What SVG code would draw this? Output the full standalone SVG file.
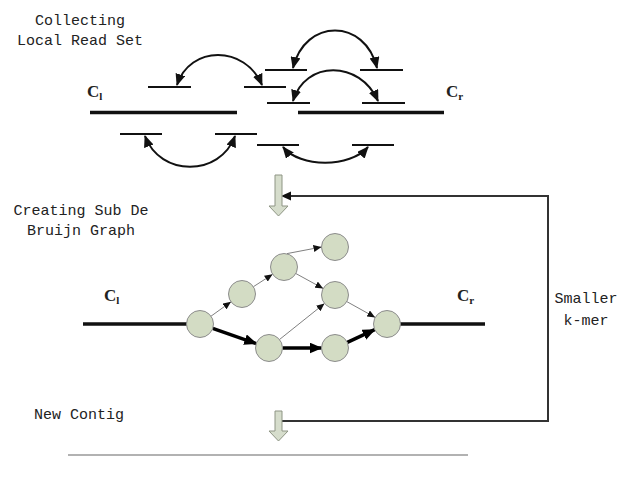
<svg xmlns="http://www.w3.org/2000/svg" width="625" height="484" viewBox="0 0 625 484">
<style>
.lbl{font-family:"Liberation Mono","DejaVu Sans Mono",monospace;font-size:15px;fill:#222;text-anchor:middle}
.c{font-family:"Liberation Serif","Times New Roman",serif;font-size:17px;font-weight:bold;fill:#222}
.contig{stroke:#111;stroke-width:3.5;fill:none}
.read{stroke:#111;stroke-width:2;fill:none}
.arc{stroke:#111;stroke-width:2;fill:none;marker-start:url(#ah);marker-end:url(#ah)}
.node{fill:#d3dcc4;stroke:#8c8c8c;stroke-width:1}
.thin{stroke:#808080;stroke-width:1;fill:none;marker-end:url(#ahs)}
.thick{stroke:#000;stroke-width:3.5;fill:none;marker-end:url(#ahb)}
.block{fill:#d6ddcc;stroke:#8e9584;stroke-width:1}
.loop{stroke:#333;stroke-width:2;fill:none}
</style>
<defs>
<marker id="ah" markerUnits="userSpaceOnUse" markerWidth="12" markerHeight="10" refX="11" refY="5" orient="auto-start-reverse"><path d="M0,0 L12,5 L0,10 z" fill="#111"/></marker>
<marker id="ahs" markerUnits="userSpaceOnUse" markerWidth="8" markerHeight="7" refX="8" refY="3.5" orient="auto"><path d="M0,0 L8,3.5 L0,7 z" fill="#111"/></marker>
<marker id="ahb" markerUnits="userSpaceOnUse" markerWidth="13" markerHeight="11" refX="12" refY="5.5" orient="auto"><path d="M0,0 L13,5.5 L0,11 z" fill="#000"/></marker>
</defs>

<g id="title-collecting">
<text class="lbl" x="80" y="25">Collecting</text>
<text class="lbl" x="80" y="45">Local Read Set</text>
</g>

<g id="read-set">
<text class="c" x="87" y="97">C<tspan font-size="11" dy="3">l</tspan></text>
<text class="c" x="446" y="97">C<tspan font-size="11" dy="3">r</tspan></text>
<line class="contig" x1="90" y1="112.5" x2="237" y2="112.5"/>
<line class="contig" x1="298" y1="112.5" x2="444" y2="112.5"/>
<line class="read" x1="148" y1="87" x2="191" y2="87"/>
<line class="read" x1="244" y1="87" x2="286" y2="87"/>
<line class="read" x1="265" y1="70" x2="307" y2="70"/>
<line class="read" x1="360" y1="70" x2="403" y2="70"/>
<line class="read" x1="267" y1="103" x2="310" y2="103"/>
<line class="read" x1="362" y1="103" x2="405" y2="103"/>
<line class="read" x1="120" y1="134" x2="162" y2="134"/>
<line class="read" x1="215" y1="134" x2="257" y2="134"/>
<line class="read" x1="257" y1="145" x2="299" y2="145"/>
<line class="read" x1="352" y1="145" x2="394" y2="145"/>
</g>

<g id="connectors">
<path class="arc" d="M177,85 C190,45 245,45 262,85"/>
<path class="arc" d="M293,68 C305,18 365,18 377,68"/>
<path class="arc" d="M293,101 C305,60 360,60 378,101"/>
<path class="arc" d="M145,136 C160,177 220,177 235,136"/>
<path class="arc" d="M283,147 C300,168 350,168 368,147"/>

<line class="thin" x1="211" y1="316.2" x2="231" y2="301.8"/>
<line class="thin" x1="253.4" y1="286.7" x2="272.6" y2="274.3"/>
<line class="thin" x1="287" y1="253.6" x2="321.5" y2="247"/>
<line class="thin" x1="295.8" y1="273.5" x2="323.2" y2="288.5"/>
<line class="thin" x1="279.5" y1="339.5" x2="324.5" y2="303.5"/>
<line class="thin" x1="346.8" y1="301.6" x2="375.2" y2="317.4"/>
<line class="thick" x1="212.7" y1="328.4" x2="256.3" y2="343.6"/>
<line class="thick" x1="282.5" y1="348" x2="321.5" y2="348"/>
<line class="thick" x1="347.3" y1="342.3" x2="374.7" y2="329.7"/>

<path class="loop" d="M282,421 H548 V196 H291"/>
<path d="M281,196 L291,191.5 L291,200.5 z" fill="#111"/>
</g>

<g id="step-arrow-1">
<polygon class="block" points="275,175 282,175 282,206 288,206 278.5,216 269,206 275,206"/>
</g>

<g id="title-creating">
<text class="lbl" x="81" y="215">Creating Sub De</text>
<text class="lbl" x="81" y="235">Bruijn Graph</text>
</g>

<g id="graph">
<text class="c" x="104" y="301">C<tspan font-size="11" dy="3">l</tspan></text>
<text class="c" x="457" y="301">C<tspan font-size="11" dy="3">r</tspan></text>
<line class="contig" x1="83" y1="324" x2="187" y2="324"/>
<line class="contig" x1="400" y1="324" x2="485" y2="324"/>
<g id="node-a"><circle class="node" cx="200" cy="324" r="13.5"/></g>
<g id="node-b"><circle class="node" cx="242" cy="294" r="13.5"/></g>
<g id="node-c"><circle class="node" cx="284" cy="267" r="13.5"/></g>
<g id="node-d"><circle class="node" cx="335" cy="247" r="13.5"/></g>
<g id="node-e"><circle class="node" cx="335" cy="295" r="13.5"/></g>
<g id="node-f"><circle class="node" cx="269" cy="348" r="13.5"/></g>
<g id="node-g"><circle class="node" cx="335" cy="348" r="13.5"/></g>
<g id="node-h"><circle class="node" cx="387" cy="324" r="13.5"/></g>
</g>

<g id="smaller-kmer">
<text class="lbl" x="586" y="303">Smaller</text>
<text class="lbl" x="586" y="325">k-mer</text>
</g>

<g id="title-new-contig">
<text class="lbl" x="79" y="419">New Contig</text>
</g>

<g id="step-arrow-2">
<polygon class="block" points="275,411 282,411 282,431 288,431 278.5,441 269,431 275,431"/>
</g>

<g id="new-contig">
<line x1="68" y1="455" x2="468" y2="455" stroke="#999" stroke-width="1.5"/>
</g>
</svg>
